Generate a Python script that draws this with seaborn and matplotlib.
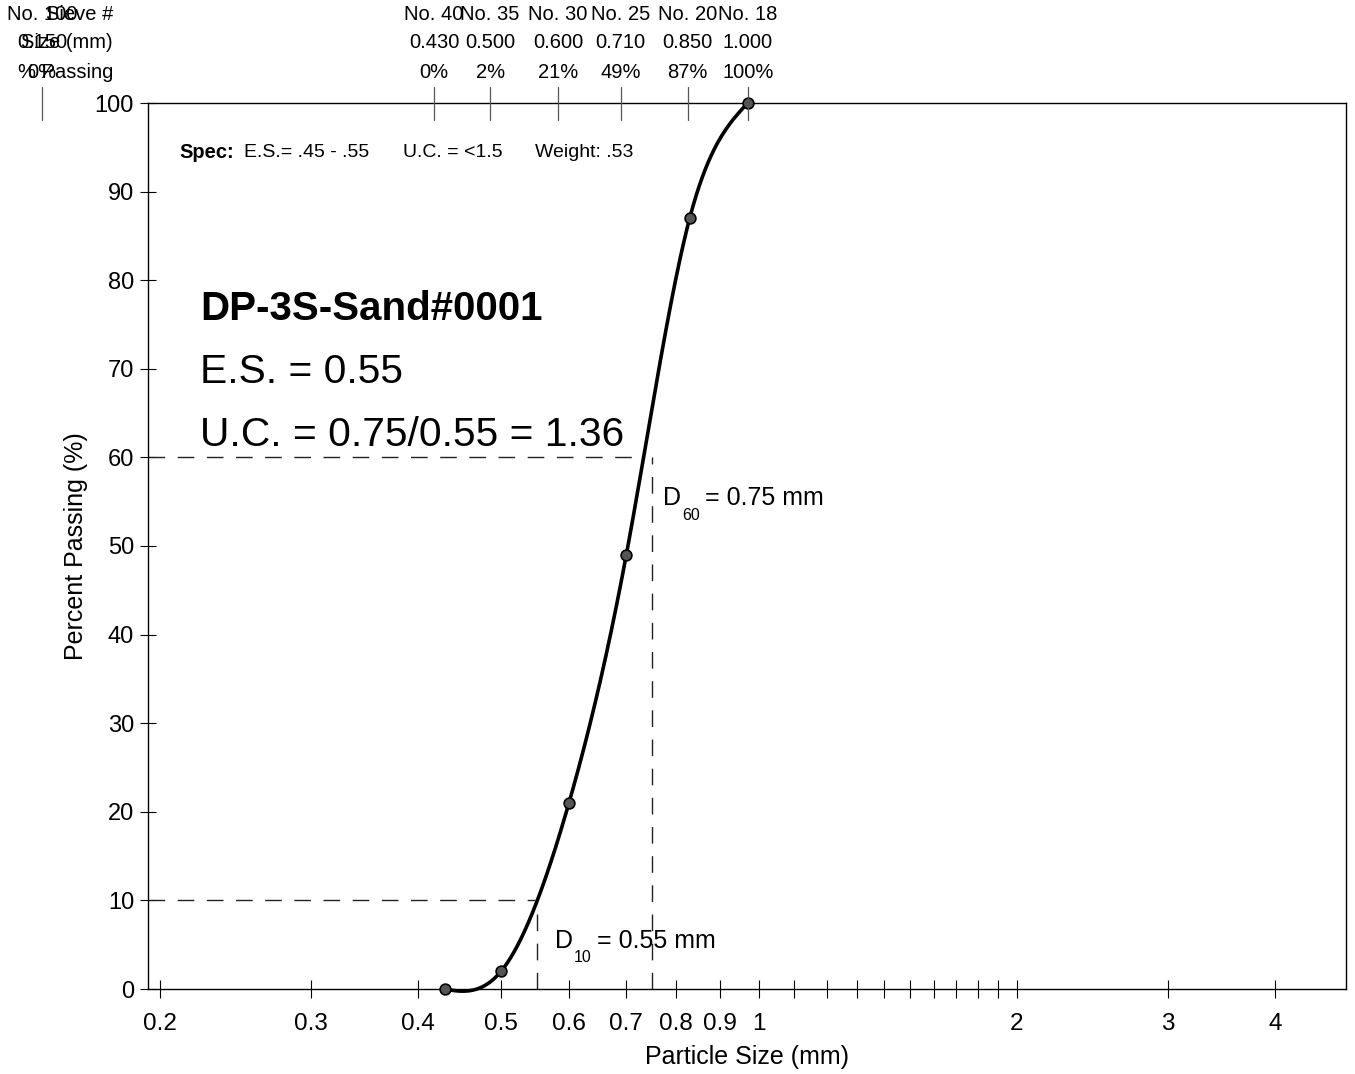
import numpy as np
import pandas as pd
import matplotlib
matplotlib.use("Agg")
import matplotlib.pyplot as plt
import matplotlib.transforms as mtransforms
from matplotlib.ticker import FixedLocator, NullFormatter, NullLocator
import seaborn as sns

# ---------------- data ----------------
sieve_names = ["No. 40", "No. 35", "No. 30", "No. 25", "No. 20", "No. 18"]
sieve_sizes = [0.430, 0.500, 0.600, 0.710, 0.850, 1.000]
sieve_size_labels = ["0.430", "0.500", "0.600", "0.710", "0.850", "1.000"]
percent_passing = [0, 2, 21, 49, 87, 100]
percent_labels = ["0%", "2%", "21%", "49%", "87%", "100%"]
# plotted point positions
point_sizes = [0.43, 0.50, 0.60, 0.70, 0.83, 0.97]

extra_sieve_name = "No. 100"
extra_sieve_size = 0.150
extra_sieve_size_label = "0.150"
extra_sieve_pct = "0%"

d10 = 0.55
d60 = 0.75

x_major = [0.2, 0.3, 0.4, 0.5, 0.6, 0.7, 0.8, 0.9, 1, 2, 3, 4]
x_major_labels = ["0.2", "0.3", "0.4", "0.5", "0.6", "0.7", "0.8", "0.9", "1", "2", "3", "4"]
x_minor = [1.1, 1.2, 1.3, 1.4, 1.5, 1.6, 1.7, 1.8, 1.9]
y_ticks = list(range(0, 101, 10))

sample_name = "DP-3S-Sand#0001"
es_text = "E.S. = 0.55"
uc_text = "U.C. = 0.75/0.55 = 1.36"

# ---------------- style ----------------
sns.set_theme(style="white")
plt.rcParams["font.family"] = ["Liberation Sans", "DejaVu Sans"]
plt.rcParams["text.color"] = "black"
plt.rcParams["axes.labelcolor"] = "black"
plt.rcParams["xtick.color"] = "black"
plt.rcParams["ytick.color"] = "black"

W, H = 1355, 1074
fig = plt.figure(figsize=(W / 100, H / 100), dpi=100)
L, R, T, B = 148, 1346, 103, 989
ax = fig.add_axes([L / W, 1 - B / H, (R - L) / W, (B - T) / H])

xlim = (0.1936, 4.842)

# smooth curve (cubic spline in log-x through the points)
def cubic_spline(xk, yk, xs, start_slope=0.0):
    xk = np.asarray(xk, float); yk = np.asarray(yk, float)
    n = len(xk); h = np.diff(xk)
    A = np.zeros((n, n)); r = np.zeros(n)
    A[0, 0] = 2 * h[0]; A[0, 1] = h[0]
    r[0] = 3 * ((yk[1] - yk[0]) / h[0] - start_slope)
    A[-1, -1] = 1
    for i in range(1, n - 1):
        A[i, i - 1] = h[i - 1]; A[i, i] = 2 * (h[i - 1] + h[i]); A[i, i + 1] = h[i]
        r[i] = 3 * ((yk[i + 1] - yk[i]) / h[i] - (yk[i] - yk[i - 1]) / h[i - 1])
    c = np.linalg.solve(A, r)
    b = (yk[1:] - yk[:-1]) / h - h * (2 * c[:-1] + c[1:]) / 3
    d = (c[1:] - c[:-1]) / (3 * h)
    idx = np.clip(np.searchsorted(xk, xs) - 1, 0, n - 2)
    dx = xs - xk[idx]
    return yk[idx] + b[idx] * dx + c[idx] * dx ** 2 + d[idx] * dx ** 3

lx = np.log10(point_sizes)
us = np.linspace(lx[0], lx[-1], 500)
curve = pd.DataFrame({"size": 10 ** us, "pct": cubic_spline(lx, percent_passing, us, -20.0)})
pts = pd.DataFrame({"size": point_sizes, "pct": percent_passing})

sns.lineplot(data=curve, x="size", y="pct", ax=ax, color="black", lw=2.6, sort=False,
             zorder=3, clip_on=False)
sns.scatterplot(data=pts, x="size", y="pct", ax=ax, color="#555555", edgecolor="black",
                linewidth=1.2, s=60, zorder=4, clip_on=False)

ax.set_xscale("log")
ax.set_xlim(*xlim)
ax.set_ylim(0, 100)

# dashed D lines
dash = dict(color="#222222", lw=1.0, dashes=(12, 9))
ax.plot([xlim[0], 0.733], [60, 60], **dash)
ax.plot([d60, d60], [0, 60], **dash)
ax.plot([xlim[0], 0.548], [10, 10], **dash)
ax.plot([d10, d10], [0, 10], **dash)

ax.xaxis.set_major_locator(FixedLocator(x_major))
ax.set_xticklabels(x_major_labels)
ax.xaxis.set_minor_locator(FixedLocator(x_minor))
ax.xaxis.set_minor_formatter(NullFormatter())
ax.set_yticks(y_ticks)
ax.set_yticklabels([str(v) for v in y_ticks])
ax.tick_params(axis="x", which="both", direction="inout", length=13, width=0.8,
               labelsize=17.5, pad=11, colors="black", bottom=True)
ax.tick_params(axis="y", direction="inout", length=12, width=0.8, labelsize=17,
               pad=4, left=True, labelleft=True, colors="black")
for s in ax.spines.values():
    s.set_color("black"); s.set_linewidth(1.0); s.set_visible(True)

ax.set_xlabel("Particle Size (mm)", fontsize=18, labelpad=7)
ax.set_ylabel("Percent Passing (%)", fontsize=18, labelpad=5)

# top sieve axis
ax_top = ax.twiny()
ax_top.set_xscale("log")
ax_top.set_xlim(xlim[0] * 1.03, xlim[1] * 1.03)
ax_top.xaxis.set_major_locator(NullLocator())
ax_top.xaxis.set_minor_locator(NullLocator())
for s in ax_top.spines.values():
    s.set_visible(False)
trans_tick = ax_top.get_xaxis_transform()
trans_txt = mtransforms.blended_transform_factory(ax_top.transData, fig.transFigure)
all_x = [extra_sieve_size] + sieve_sizes
all_names = [extra_sieve_name] + sieve_names
all_sz = [extra_sieve_size_label] + sieve_size_labels
all_pc = [extra_sieve_pct] + percent_labels
for xv, nm, sz, pc in zip(all_x, all_names, all_sz, all_pc):
    ax_top.plot([xv, xv], [1 + 16 / 885, 1 - 17 / 885], transform=trans_tick,
                color="#555555", lw=0.9, clip_on=False)
    ax_top.text(xv, 1 - 15 / H, nm, transform=trans_txt, ha="center", va="center", fontsize=14.5)
    ax_top.text(xv, 1 - 43 / H, sz, transform=trans_txt, ha="center", va="center", fontsize=14.5)
    ax_top.text(xv, 1 - 72 / H, pc, transform=trans_txt, ha="center", va="center", fontsize=14.5)
for lab, yy in zip(["Sieve #", "Size (mm)", "% Passing"], [15, 43, 72]):
    fig.text(113 / W, 1 - yy / H, lab, ha="right", va="center", fontsize=14.5)

# annotations
fig.text(179 / W, 1 - 153 / H, "Spec:", fontsize=14.5, fontweight="bold", va="center")
fig.text(244 / W, 1 - 153 / H, "E.S.= .45 - .55", fontsize=14, va="center")
fig.text(403 / W, 1 - 153 / H, "U.C. = <1.5", fontsize=14, va="center")
fig.text(535 / W, 1 - 153 / H, "Weight: .53", fontsize=14, va="center")

fig.text(200 / W, 1 - 309 / H, sample_name, fontsize=29, fontweight="bold", va="center")
fig.text(200 / W, 1 - 372 / H, es_text, fontsize=29.3, va="center")
fig.text(200 / W, 1 - 435 / H, uc_text, fontsize=29.3, va="center")

fig.text(663 / W, 1 - 498 / H, "D", fontsize=18, va="center")
fig.text(682 / W, 1 - 516 / H, "60", fontsize=11.5, va="center")
fig.text(705 / W, 1 - 498 / H, "= 0.75 mm", fontsize=18, va="center")
fig.text(555 / W, 1 - 941 / H, "D", fontsize=18, va="center")
fig.text(574 / W, 1 - 958 / H, "10", fontsize=11.5, va="center")
fig.text(597 / W, 1 - 941 / H, "= 0.55 mm", fontsize=18, va="center")

fig.savefig("out.png", dpi=100)
